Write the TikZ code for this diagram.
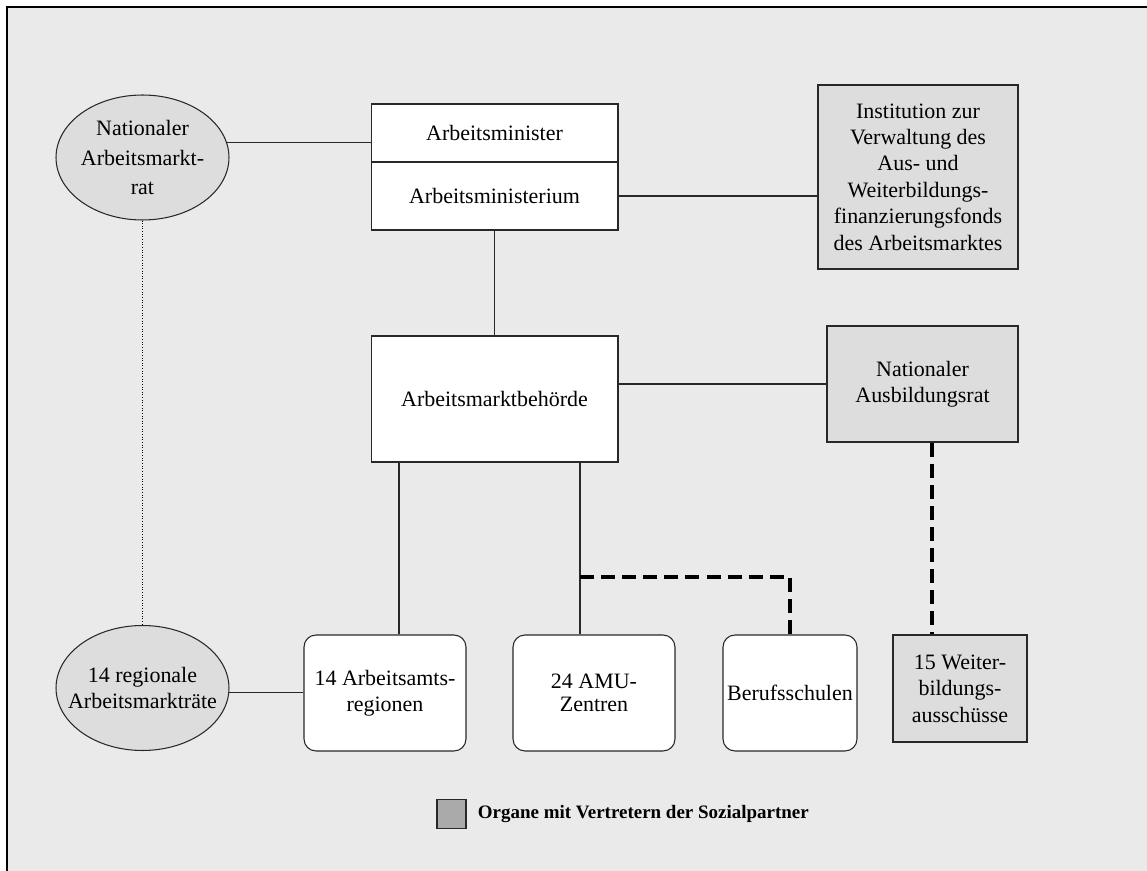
\documentclass[tikz,border=0pt]{standalone}
\usepackage{fontspec}
\setmainfont{Liberation Serif}
\usetikzlibrary{positioning, shapes}
\definecolor{papier}{RGB}{234,234,234}
\definecolor{organ}{RGB}{221,221,221}
\definecolor{legende}{RGB}{170,170,170}
\definecolor{linie}{RGB}{40,40,40}
\newcommand{\textgr}{\fontsize{12.5}{15}\selectfont}

\begin{document}
\begin{tikzpicture}[x=0.02cm, y=-0.02cm,
  every node/.style={font=\textgr, align=center, inner sep=1pt},
  amt/.style={rectangle, draw=linie, fill=white, line width=0.6pt},
  organ/.style={rectangle, draw=linie, fill=organ, line width=0.6pt},
  stelle/.style={rectangle, rounded corners=0.24cm, draw=linie, fill=white, line width=0.6pt, minimum width=3.24cm, minimum height=2.32cm},
  rat/.style={ellipse, draw=linie, fill=organ, line width=0.6pt, minimum width=3.46cm, minimum height=2.5cm, inner xsep=-0.3cm},
  verb/.style={draw=linie, line width=0.6pt},
  aufsicht/.style={draw=black, line width=1.8pt, dash pattern=on 8pt off 4pt},
  punktiert/.style={draw=black, line width=0.5pt, densely dotted}]
\useasboundingbox (0,0) rectangle (1147,871);
\clip (0,0) rectangle (1147,871);
\fill[papier] (7,7) rectangle (1160,880);
\draw[line width=1.1pt] (7,880) -- (7,7) -- (1160,7);

% obere Ebene
\node [rat, font=\fontsize{12.5}{16.8}\selectfont] (natrat) at (142.5,157.5) {Nationaler\\ Arbeitsmarkt-\\ rat};
\node [amt, minimum width=4.94cm, minimum height=1.16cm] (minister) at (494.5,133) {Arbeitsminister};
\node [amt, minimum width=4.94cm, minimum height=1.36cm] (ministerium) at (494.5,196) {Arbeitsministerium};
\node [organ, minimum width=4cm, minimum height=3.68cm] (institution) at (918,177) {Institution zur\\ Verwaltung des\\ Aus- und\\ Weiterbildungs-\\ finanzierungsfonds\\ des Arbeitsmarktes};

% mittlere Ebene
\node [amt, minimum width=4.94cm, minimum height=2.52cm] (behoerde) at (494.5,399) {Arbeitsmarktbehörde};
\node [organ, minimum width=3.82cm, minimum height=2.32cm] (ausbrat) at (922.5,384) {Nationaler\\ Ausbildungsrat};

% untere Ebene
\node [rat] (regrat) at (142.5,688) {14 regionale\\ Arbeitsmarkträte};
\node [stelle] (amtsreg) at (385,693) {14 Arbeitsamts-\\ regionen};
\node [stelle, font=\fontsize{12.5}{13}\selectfont] (amu) at (594,693) {24 AMU-\\ Zentren};
\node [stelle, minimum width=2.68cm, inner xsep=0pt] (berufs) at (790,693) {Berufsschulen};
\node [organ, minimum width=2.68cm, minimum height=2.14cm] (weiter) at (960,688.5) {15 Weiter-\\ bildungs-\\ ausschüsse};

% Verbindungen
\draw[verb] (natrat.10) -- (natrat.10 -| minister.west);
\draw[verb] (ministerium) -- (behoerde);
\draw[verb] (ministerium.east) -- (ministerium.east -| institution.west);
\draw[verb] (ausbrat.west) -- (ausbrat.west -| behoerde.east);
\draw[verb] ([xshift=0.28cm]amtsreg.north) -- ([xshift=0.28cm]amtsreg.north |- behoerde.south);
\draw[verb] ([xshift=-0.28cm]amu.north) -- ([xshift=-0.28cm]amu.north |- behoerde.south);
\draw[verb] (regrat.-3) -- (regrat.-3 -| amtsreg.west);
\draw[punktiert] (natrat) -- (regrat);

\coordinate (abzweig) at (580,577);
\draw[aufsicht] (abzweig) -| (berufs.north);
\draw[aufsicht] ([xshift=0.19cm]ausbrat.south) -- ([xshift=0.19cm]ausbrat.south |- weiter.north);

% Legende
\node [rectangle, draw=linie, fill=legende, line width=0.6pt, minimum size=0.58cm, inner sep=0pt] (legsq) at (451.5,814) {};
\node [right=0.22cm of legsq, inner sep=0pt, font=\bfseries\fontsize{10.8}{13}\selectfont] (legtext) {Organe mit Vertretern der Sozialpartner};
\end{tikzpicture}
\end{document}
